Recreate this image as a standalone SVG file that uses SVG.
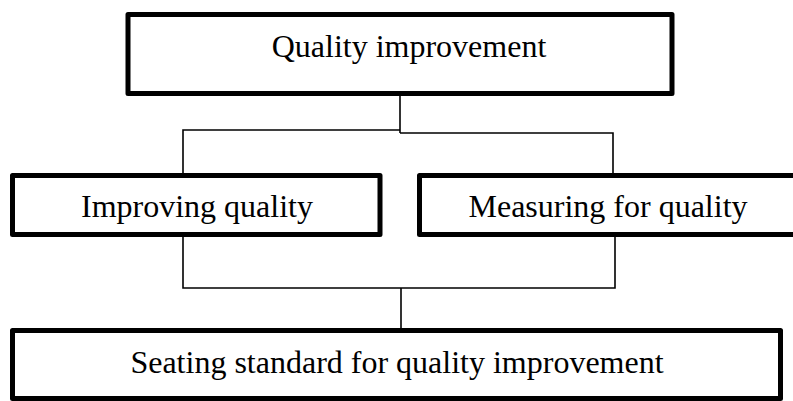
<svg xmlns="http://www.w3.org/2000/svg" width="793" height="401" viewBox="0 0 793 401">
  <style>
    .box { fill: #ffffff; stroke: #000000; stroke-width: 5; stroke-linejoin: round; }
    .label { font-family: "Liberation Serif", "Times New Roman", serif; font-size: 32px; fill: #000000; text-anchor: middle; }
    .wire { fill: none; stroke: #000000; stroke-width: 1.6; }
  </style>
  <rect width="793" height="401" fill="#ffffff"/>

  <!-- connectors -->
  <g id="connectors">
    <path class="wire" d="M400,96 V133"/>
    <path class="wire" d="M400,130 H183 V174"/>
    <path class="wire" d="M400,133 H613 V174"/>
    <path class="wire" d="M183,236 V288 H615 V236"/>
    <path class="wire" d="M401,288 V329"/>
  </g>

  <g id="node-quality-improvement">
    <rect class="box" x="128" y="14.5" width="544" height="79"/>
    <text class="label" x="409" y="57">Quality improvement</text>
  </g>

  <g id="node-improving-quality">
    <rect class="box" x="12.5" y="175.5" width="367.5" height="59"/>
    <text class="label" x="197" y="217">Improving quality</text>
  </g>

  <g id="node-measuring-for-quality">
    <rect class="box" x="419.5" y="175.5" width="380" height="59"/>
    <text class="label" x="608" y="217">Measuring for quality</text>
  </g>

  <g id="node-seating-standard">
    <rect class="box" x="12.5" y="330.5" width="768" height="68"/>
    <text class="label" x="397" y="373">Seating standard for quality improvement</text>
  </g>
</svg>
